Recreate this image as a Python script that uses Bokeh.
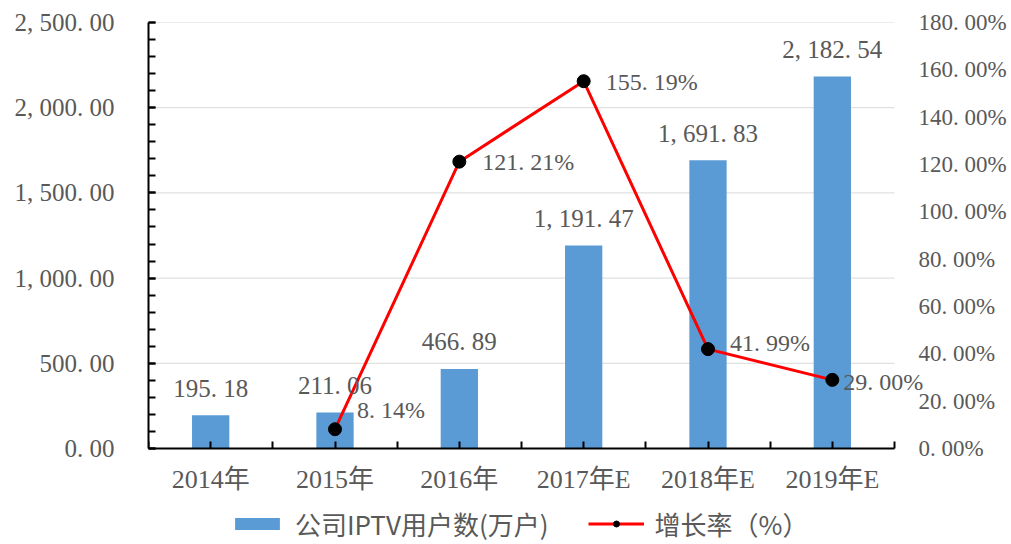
from bokeh.plotting import figure
from bokeh.models import (ColumnDataSource, LinearAxis, Range1d, FixedTicker,
                          LabelSet, Legend, LegendItem)
from bokeh.core.properties import value
from bokeh.embed import file_html
from bokeh.resources import INLINE

# ---------------- data ----------------
categories = ["2014年", "2015年", "2016年", "2017年E", "2018年E", "2019年E"]
users = [195.18, 211.06, 466.89, 1191.47, 1691.83, 2182.54]
user_labels = ["195. 18", "211. 06", "466. 89", "1, 191. 47", "1, 691. 83", "2, 182. 54"]

growth_categories = ["2015年", "2016年", "2017年E", "2018年E", "2019年E"]
growth = [8.14, 121.21, 155.19, 41.99, 29.00]
growth_labels = ["8. 14%", "121. 21%", "155. 19%", "41. 99%", "29. 00%"]

left_ticks = [0, 500, 1000, 1500, 2000, 2500]
left_tick_labels = ["0. 00", "500. 00", "1, 000. 00", "1, 500. 00", "2, 000. 00", "2, 500. 00"]
right_ticks = [0, 20, 40, 60, 80, 100, 120, 140, 160, 180]
right_tick_labels = ["0. 00%", "20. 00%", "40. 00%", "60. 00%", "80. 00%", "100. 00%",
                     "120. 00%", "140. 00%", "160. 00%", "180. 00%"]

bar_name = "公司IPTV用户数(万户)"
line_name = "增长率（%）"

# ---------------- styling ----------------
NUM_FONT = "Liberation Serif, Noto Sans CJK SC"
CJK_FONT = "Noto Sans CJK SC"
TXT = "#595959"
BLUE = "#5B9BD5"

n = len(categories)
L_MAX = left_ticks[-1]
R_MAX = right_ticks[-1]

# plot area geometry (pixels): the axes occupy AXIS_W x AXIS_H, the drawing
# frame is larger so that outside labels and the legend are not clipped
AXIS_W, AXIS_H = 746, 426
FRAME_W, FRAME_H = 790, 522
x_end = n * FRAME_W / AXIS_W
yl_start = -L_MAX * (FRAME_H - AXIS_H) / AXIS_H
yr_start = -R_MAX * (FRAME_H - AXIS_H) / AXIS_H

pos = {c: i + 0.5 for i, c in enumerate(categories)}
bar_x = [pos[c] for c in categories]
line_x = [pos[c] for c in growth_categories]

bar_src = ColumnDataSource(dict(x=bar_x, top=users, label=user_labels))
line_src = ColumnDataSource(dict(x=line_x, y=growth, label=growth_labels,
                                 xo=[22, 23, 22, 22, 11],
                                 yo=[19, 0, -1, 6, -2]))
grid_src = ColumnDataSource(dict(y=left_ticks[1:]))

p = figure(frame_width=FRAME_W, frame_height=FRAME_H,
           min_border_left=148, min_border_right=73,
           min_border_top=22, min_border_bottom=0,
           x_range=Range1d(0, x_end),
           y_range=Range1d(yl_start, L_MAX),
           x_axis_location=None,
           output_backend="svg", toolbar_location=None)
p.extra_y_ranges = {"right": Range1d(yr_start, R_MAX)}
p.outline_line_color = None
p.background_fill_color = "white"
p.border_fill_color = "white"

# grid (drawn only across the category axis span)
p.xgrid.grid_line_color = None
p.ygrid.grid_line_color = None
p.segment(x0=0, x1=n, y0="y", y1="y", source=grid_src,
          line_color="#D9D9D9", line_width=1, level="underlay")

# x axis, fixed at y = 0
xa = LinearAxis(fixed_location=0, bounds=(0, n),
                ticker=FixedTicker(ticks=bar_x, minor_ticks=list(range(n + 1))))
xa.major_label_overrides = {pos[c]: c for c in categories}
xa.axis_line_color = "black"
xa.axis_line_width = 2
xa.major_tick_line_color = "black"
xa.major_tick_line_width = 2
xa.major_tick_in = 7
xa.major_tick_out = 0
xa.minor_tick_line_color = "black"
xa.minor_tick_line_width = 2
xa.minor_tick_in = 7
xa.minor_tick_out = 0
xa.major_label_standoff = 16
xa.major_label_text_font = NUM_FONT
xa.major_label_text_font_size = "26px"
xa.major_label_text_color = TXT
p.add_layout(xa, "below")

# left axis
ya = p.yaxis[0]
ya.bounds = (0, L_MAX)
ya.ticker = FixedTicker(ticks=left_ticks, minor_ticks=list(range(0, L_MAX + 1, 100)))
ya.major_label_overrides = dict(zip(left_ticks, left_tick_labels))
ya.axis_line_color = "black"
ya.axis_line_width = 2
ya.major_tick_line_color = "black"
ya.major_tick_line_width = 2
ya.major_tick_in = 7
ya.major_tick_out = 0
ya.minor_tick_line_color = "black"
ya.minor_tick_line_width = 2
ya.minor_tick_in = 7
ya.minor_tick_out = 0
ya.major_label_standoff = 34
ya.major_label_text_font = NUM_FONT
ya.major_label_text_font_size = "25px"
ya.major_label_text_color = TXT

# right axis
ra = LinearAxis(y_range_name="right", bounds=(0, R_MAX),
                ticker=FixedTicker(ticks=right_ticks))
ra.major_label_overrides = dict(zip(right_ticks, right_tick_labels))
ra.axis_line_color = None
ra.major_tick_line_color = None
ra.minor_tick_line_color = None
ra.major_label_standoff = -26
ra.major_label_text_font = NUM_FONT
ra.major_label_text_font_size = "23px"
ra.major_label_text_color = TXT
p.add_layout(ra, "right")

# glyphs
bars = p.vbar(x="x", top="top", width=0.3, source=bar_src,
              fill_color=BLUE, line_color=None)
line = p.line(x="x", y="y", source=line_src, y_range_name="right",
              line_color="#FF0000", line_width=3)
dots = p.scatter(x="x", y="y", source=line_src, y_range_name="right",
                 size=13, fill_color="black", line_color="black")

# data labels
p.add_layout(LabelSet(x="x", y="top", text="label", source=bar_src,
                      text_align="center", text_baseline="middle", y_offset=27,
                      text_font=value(NUM_FONT), text_font_size="25px",
                      text_color=TXT))
p.add_layout(LabelSet(x="x", y="y", text="label", source=line_src,
                      y_range_name="right",
                      text_align="left", text_baseline="middle",
                      x_offset="xo", y_offset="yo",
                      text_font=value(NUM_FONT), text_font_size="24px",
                      text_color=TXT))

# legend
legend = Legend(items=[LegendItem(label=bar_name, renderers=[bars]),
                       LegendItem(label=line_name, renderers=[line, dots])],
                orientation="horizontal", location=(81, 2),
                glyph_width=56, glyph_height=15, label_standoff=10, spacing=40,
                padding=0, margin=0, border_line_color=None,
                background_fill_alpha=0,
                label_text_font=CJK_FONT, label_text_font_size="26px",
                label_text_color=TXT)
p.add_layout(legend, "center")

open("out.html", "w").write(file_html(p, INLINE))
